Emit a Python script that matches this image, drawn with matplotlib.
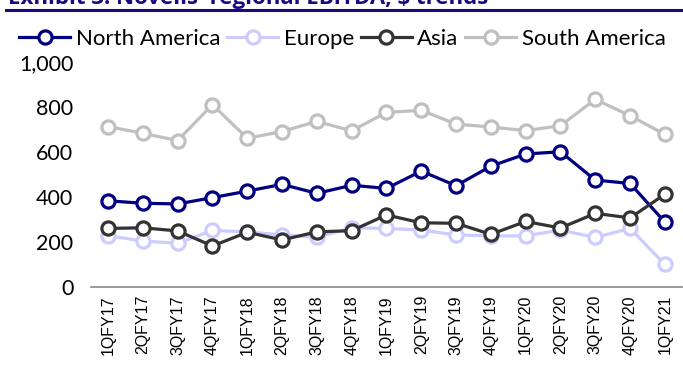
import matplotlib
matplotlib.use("Agg")
import matplotlib.pyplot as plt

# Quarter labels and regional EBITDA ($m)
quarters = ["1QFY17", "2QFY17", "3QFY17", "4QFY17", "1QFY18", "2QFY18",
            "3QFY18", "4QFY18", "1QFY19", "2QFY19", "3QFY19", "4QFY19",
            "1QFY20", "2QFY20", "3QFY20", "4QFY20", "1QFY21"]
north_america = [382, 371, 368, 396, 425, 455, 415, 451, 437, 514, 449, 536,
                 590, 600, 474, 459, 287]
europe = [227, 203, 193, 250, 244, 230, 220, 262, 259, 252, 230, 226,
          226, 252, 219, 259, 99]
asia = [259, 262, 248, 181, 242, 208, 244, 249, 319, 284, 282, 233,
        290, 261, 326, 306, 411]
south_america = [712, 682, 650, 809, 660, 690, 735, 693, 775, 784, 723, 710,
                 694, 716, 833, 760, 677]

series = [
    ("North America", north_america, "#000080"),
    ("Europe", europe, "#ccccff"),
    ("Asia", asia, "#333333"),
    ("South America", south_america, "#c0c0c0"),
]

navy = "#1a0a80"
fig = plt.figure(figsize=(6.83, 3.79), dpi=100)
ax = fig.add_axes([0.1327, 0.2435, 0.8663, 0.5935])

x = list(range(len(quarters)))
for name, vals, col in series:
    ax.plot(x, vals, color=col, lw=2.3, marker="o", ms=9.5,
            mfc="white", mec=col, mew=2.3, label=name, clip_on=False)

ax.set_xlim(-0.5, len(quarters) - 0.5)
ax.set_ylim(0, 1000)
ax.set_yticks([0, 200, 400, 600, 800, 1000])
ax.set_yticklabels(["0", "200", "400", "600", "800", "1,000"],
                   fontsize=15.5, fontfamily="Lato")
ax.set_xticks(x)
ax.set_xticklabels(quarters, rotation=90, fontsize=11.5,
                   fontfamily="Liberation Sans")
ax.tick_params(length=0, pad=6)
ax.tick_params(axis="y", pad=12.5)
for side in ["top", "right", "left"]:
    ax.spines[side].set_visible(False)
ax.spines["bottom"].set_color("#888888")
ax.spines["bottom"].set_linewidth(1.2)

leg = fig.legend(loc="center left", bbox_to_anchor=(0.028, 0.898), ncol=4,
                 frameon=False, prop={"family": "Lato", "size": 16},
                 handlelength=2.3, handletextpad=0.25, columnspacing=0.3,
                 borderaxespad=0, borderpad=0)

# Title, cut off at the top like the source, with rule beneath
fig.text(0.012, 0.989, "Exhibit 3: Novelis' regional EBITDA, $ trends",
         fontsize=16, fontweight="bold", color=navy, fontfamily="Open Sans",
         va="baseline", ha="left")
fig.add_artist(plt.Line2D([0.009, 1.0], [0.974, 0.974], color=navy, lw=2.2))

fig.savefig("out.png", dpi=100)
